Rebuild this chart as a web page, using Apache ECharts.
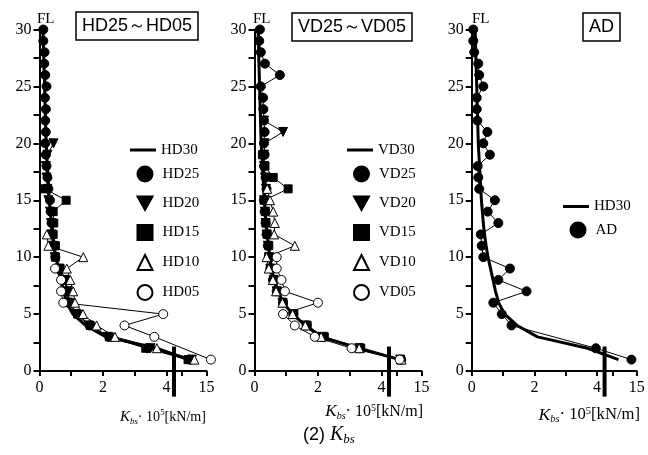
<!DOCTYPE html>
<html>
<head>
<meta charset="utf-8">
<script src="https://cdn.jsdelivr.net/npm/echarts@6/dist/echarts.min.js"></script>
<style>
html, body { margin: 0; padding: 0; background: #fff; }
#main { width: 648px; height: 455px; }
</style>
</head>
<body>
<div id="main"></div>
<script>
// storey (FL) index, bottom to top
const floors = [1,2,3,4,5,6,7,8,9,10,11,12,13,14,15,16,17,18,19,20,21,22,23,24,25,26,27,28,29,30];

// Kbs x 10^5 [kN/m], one value per floor starting at FL1 (null = no mark)
const hd30 = [11.2,3.7,2.1,1.45,1.05,0.86,0.76,0.68,0.6,0.52,0.46,0.41,0.37,0.34,0.31,0.29,0.27,0.25,0.23,0.21,0.2,0.19,0.18,0.17,0.16,0.15,0.14,0.13,0.12,0.11];
const hd25 = [11.5,3.4,2.2,1.58,1.2,0.92,0.86,0.8,0.6,0.5,0.45,0.4,0.38,0.35,0.33,0.28,0.25,0.22,0.2,0.18,0.2,0.18,0.2,0.17,0.22,0.18,0.15,0.16,0.12,0.12];
const hd20 = [12,3.5,2.15,1.55,1.15,0.9,0.88,0.78,0.62,0.48,0.42,0.38,0.36,0.33,0.28,0.25,0.22,0.2,0.25,0.44];
const hd15 = [11.2,3.35,2.2,1.6,1.2,0.95,0.9,0.82,0.65,0.5,0.5,0.43,0.45,0.43,0.84,0.17];
const hd10 = [12.5,3.7,2.38,1.8,1.37,1.12,1.06,0.97,0.86,1.38,0.28,0.23];
const hd05 = [15.9,null,3.62,2.68,3.9,0.75,0.68,0.68,0.49];

const vd30 = [10.5,3.3,2.1,1.6,1.2,0.9,0.75,0.62,0.55,0.48,0.45,0.4,0.37,0.34,0.31,0.29,0.27,0.25,0.23,0.21,0.2,0.19,0.18,0.17,0.16,0.15,0.14,0.13,0.12,0.11];
const vd25 = [10.8,3.32,2.16,1.64,1.22,0.9,0.7,0.58,0.5,0.45,0.42,0.38,0.35,0.32,0.3,0.38,0.35,0.3,0.32,0.3,0.32,0.3,0.28,0.27,0.2,0.8,0.33,0.2,0.15,0.17];
const vd20 = [10.6,3.3,2.15,1.62,1.22,0.88,0.7,0.6,0.5,0.46,0.42,0.38,0.35,0.33,0.3,0.36,0.33,0.3,0.3,0.32,0.9,0.3];
const vd15 = [10.7,3.35,2.2,1.66,1.24,0.9,0.72,0.6,0.5,0.45,0.45,0.4,0.36,0.34,0.3,1.06,0.59,0.33,0.25];
const vd10 = [10.9,3.3,2.1,1.6,1.2,0.88,0.68,0.58,0.45,0.38,1.27,0.62,0.64,0.59,0.49,0.4];
const vd05 = [10.5,3.06,1.9,1.27,0.9,2.0,0.96,0.85,0.7,0.7];

const ad = [13.9,3.96,null,1.27,0.96,0.69,1.75,0.85,1.22,0.37,0.32,0.29,0.85,0.51,0.74,0.24,0.21,0.19,0.58,0.37,0.5,0.18,0.16,0.16,0.37,0.24,0.21,0.08,0.05,0.05];

const xTickVals = [0,1,2,3,4,10,15];
const xLabelVals = [0,2,4,15];
const yMax = 30;

const SERIF = '"Liberation Serif", "Times New Roman", serif';
const SANS = '"Liberation Sans", Arial, sans-serif';
const DOWN = 'path://M0,0L10,0L5,9Z';

// broken x axis: 0..4 linear, then 10..15 squeezed after the break
function kx(v){
    return v <= 4.3 ? v : 4.5 + (v - 10) * 0.153;
}
const BREAK_U = 4.24;

function pairs(vals){
    return vals.map((v, i) => v == null ? null : [kx(v), floors[i]]).filter(Boolean);
}

function markSeries(name, vals, gi, symbol, fill, size){
    return {
        name: name, type: 'line', xAxisIndex: gi, yAxisIndex: gi,
        data: pairs(vals), symbol: symbol, symbolSize: size || 9,
        showAllSymbol: true, clip: false, z: 3,
        lineStyle: { color: '#000', width: 1 },
        itemStyle: { color: fill, borderColor: '#000', borderWidth: 1 }
    };
}
function thickSeries(name, vals, gi){
    return {
        name: name, type: 'line', xAxisIndex: gi, yAxisIndex: gi,
        data: pairs(vals), symbol: 'none', clip: false, z: 2,
        lineStyle: { color: '#000', width: 3 },
        itemStyle: { color: '#000' }
    };
}

const grids = [
    { left: 39.5, top: 29.5, width: 167, height: 341.5 },
    { left: 254.5, top: 29.5, width: 167, height: 341.5 },
    { left: 471.7, top: 29.5, width: 165, height: 341.5 }
];

const xAxes = grids.map((g, i) => ({
    type: 'value', gridIndex: i, min: 0, max: kx(15),
    axisLine: { show: true, lineStyle: { color: '#000', width: 2 } },
    axisTick: { show: true, customValues: xTickVals.map(kx), length: 5, lineStyle: { color: '#000', width: 2 } },
    axisLabel: {
        customValues: xLabelVals.map(kx), color: '#000', fontFamily: SERIF, fontSize: 16, margin: 9,
        formatter: v => {
            const k = xLabelVals.findIndex(t => Math.abs(kx(t) - v) < 1e-6);
            return k < 0 ? '' : String(xLabelVals[k]);
        }
    },
    splitLine: { show: false }
}));

const yAxes = grids.map((g, i) => ({
    type: 'value', gridIndex: i, min: 0, max: yMax, interval: 2.5,
    axisLine: { show: true, onZero: false, lineStyle: { color: '#000', width: 2 } },
    axisTick: { show: true, length: 6, lineStyle: { color: '#000', width: 2 } },
    axisLabel: {
        color: '#000', fontFamily: SERIF, fontSize: 16, margin: 8,
        formatter: v => (v % 5 === 0 ? String(v) : '')
    },
    splitLine: { show: false }
}));

const legendText = { color: '#000', fontFamily: SERIF, fontSize: 15 };
// line legend (long flat bar) and marker legend (square icons) are separate boxes
function lineLegend(name, left, top){
    return { orient: 'vertical', left: left, top: top, itemWidth: 26, itemHeight: 3, padding: 0,
        selectedMode: false, textStyle: legendText, data: [{ name: name, icon: 'rect' }] };
}
function markLegend(items, left, top){
    return { orient: 'vertical', left: left, top: top, itemWidth: 15, itemHeight: 15, itemGap: 13, padding: 0,
        selectedMode: false, textStyle: Object.assign({ padding: [0, 0, 0, 5] }, legendText), data: items };
}

function nameRich(scale){
    return {
        k: { fontFamily: SERIF, fontStyle: 'italic', fontWeight: 'normal', fontSize: 17 * scale, color: '#000' },
        s: { fontFamily: SERIF, fontStyle: 'italic', fontWeight: 'normal', fontSize: 10 * scale, color: '#000', verticalAlign: 'bottom' },
        n: { fontFamily: SERIF, fontWeight: 'normal', fontSize: 16 * scale, color: '#000' },
        p: { fontFamily: SERIF, fontWeight: 'normal', fontSize: 10 * scale, color: '#000', verticalAlign: 'top' }
    };
}
const nameText = '{k|K}{s|bs}{n|\u00b7 10}{p|5}{n|[kN/m]}';

function boxTitle(text, left, top){
    return {
        text: text, left: left, top: top, padding: [5, 6, 5, 6],
        borderColor: '#000', borderWidth: 1.5,
        textStyle: { fontFamily: SANS, fontSize: 18, fontWeight: 'normal', color: '#000' }
    };
}
function plainTitle(text, left, top, size){
    return { text: text, left: left, top: top, padding: 0,
        textStyle: { fontFamily: SERIF, fontSize: size, fontWeight: 'normal', color: '#000' } };
}
function axisName(right, top, scale){
    return { text: nameText, right: right, top: top, padding: 0,
        textStyle: { rich: nameRich(scale), fontWeight: 'normal', lineHeight: 18 } };
}

const option = {
    animation: false,
    backgroundColor: '#fff',
    title: [
        boxTitle('HD25\uff5eHD05', 76, 12),
        boxTitle('VD25\uff5eVD05', 292, 13),
        boxTitle('AD', 583, 13),
        plainTitle('FL', 37, 12, 15),
        plainTitle('FL', 253, 12, 15),
        plainTitle('FL', 472, 12, 15),
        axisName(442, 408, 0.88),
        axisName(225, 403, 1),
        axisName(8, 406, 1.04),
        {
            text: '{a|(2) }{k|K}{s|bs}', left: 303, top: 424, padding: 0,
            textStyle: { lineHeight: 22, fontWeight: 'normal', rich: {
                a: { fontFamily: SANS, fontWeight: 'normal', fontSize: 18, color: '#000' },
                k: { fontFamily: SERIF, fontStyle: 'italic', fontWeight: 'normal', fontSize: 20, color: '#000' },
                s: { fontFamily: SERIF, fontStyle: 'italic', fontWeight: 'normal', fontSize: 13, color: '#000', verticalAlign: 'bottom' }
            } }
        }
    ],
    legend: [
        lineLegend('HD30', 130, 142.5),
        markLegend([
            { name: 'HD25', icon: 'circle' },
            { name: 'HD20', icon: DOWN },
            { name: 'HD15', icon: 'rect' },
            { name: 'HD10', icon: 'triangle' },
            { name: 'HD05', icon: 'circle' }
        ], 136.5, 165.5),
        lineLegend('VD30', 347, 142.5),
        markLegend([
            { name: 'VD25', icon: 'circle' },
            { name: 'VD20', icon: DOWN },
            { name: 'VD15', icon: 'rect' },
            { name: 'VD10', icon: 'triangle' },
            { name: 'VD05', icon: 'circle' }
        ], 353, 165.5),
        lineLegend('HD30', 563, 199),
        markLegend([{ name: 'AD', icon: 'circle' }], 569.5, 221.5)
    ],
    grid: grids,
    xAxis: xAxes,
    yAxis: yAxes,
    series: [
        thickSeries('HD30', hd30, 0),
        markSeries('HD25', hd25, 0, 'circle', '#000'),
        markSeries('HD20', hd20, 0, DOWN, '#000'),
        markSeries('HD15', hd15, 0, 'rect', '#000', 8),
        markSeries('HD10', hd10, 0, 'triangle', '#fff'),
        markSeries('HD05', hd05, 0, 'circle', '#fff'),

        thickSeries('VD30', vd30, 1),
        markSeries('VD25', vd25, 1, 'circle', '#000'),
        markSeries('VD20', vd20, 1, DOWN, '#000'),
        markSeries('VD15', vd15, 1, 'rect', '#000', 8),
        markSeries('VD10', vd10, 1, 'triangle', '#fff'),
        markSeries('VD05', vd05, 1, 'circle', '#fff'),

        thickSeries('HD30', hd30, 2),
        markSeries('AD', ad, 2, 'circle', '#000')
    ]
};

const chart = echarts.init(document.getElementById('main'), null, { renderer: 'canvas' });
chart.setOption(option);

// thick break marks across the x axis
const bars = grids.map((g, i) => {
    const top = chart.convertToPixel({ gridIndex: i }, [BREAK_U, 2.15]);
    const bot = chart.convertToPixel({ gridIndex: i }, [BREAK_U, -2.25]);
    return {
        type: 'rect', z: 100,
        shape: { x: top[0] - 2, y: top[1], width: 4, height: bot[1] - top[1] },
        style: { fill: '#000' }
    };
});
chart.setOption({ graphic: bars });
</script>
</body>
</html>
